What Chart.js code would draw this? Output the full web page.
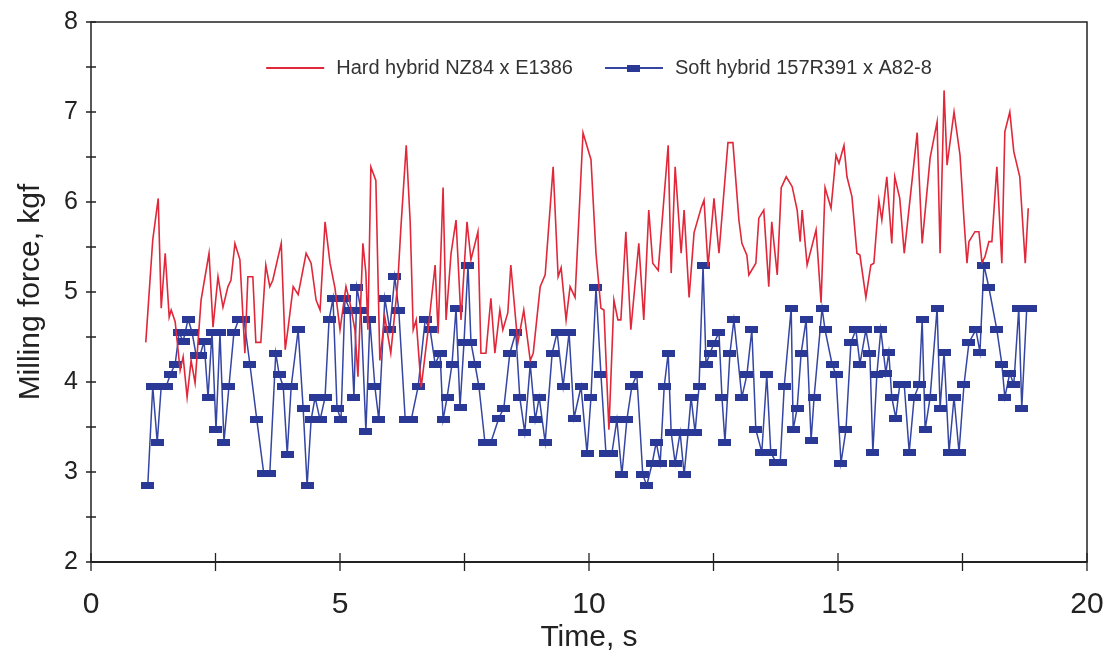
<!DOCTYPE html>
<html>
<head>
<meta charset="utf-8">
<title>Milling force</title>
<script src="https://cdn.jsdelivr.net/npm/chart.js@4.4.0/dist/chart.umd.min.js"></script>
<style>
  html, body { margin: 0; padding: 0; background: #fff; }
</style>
</head>
<body>
<canvas id="millingChart" width="1114" height="651"></canvas>
<script>
const hardLabel = 'Hard hybrid NZ84 x E1386';
const softLabel = 'Soft hybrid 157R391 x A82-8';

// hard hybrid (seconds / kgf)
const hardTime = [1.10, 1.24, 1.35, 1.41, 1.49, 1.57, 1.61, 1.69, 1.79, 1.85, 1.93, 2.01, 2.09, 2.21, 2.37, 2.45, 2.55, 2.65, 2.75, 2.81,
  2.89, 2.99, 3.09, 3.15, 3.25, 3.31, 3.41, 3.51, 3.59, 3.65, 3.82, 3.90, 3.96, 4.06, 4.16, 4.32, 4.42, 4.52, 4.60, 4.70,
  4.80, 4.90, 5.00, 5.12, 5.20, 5.30, 5.36, 5.46, 5.52, 5.56, 5.62, 5.72, 5.80, 5.90, 6.02, 6.16, 6.22, 6.33, 6.41, 6.47,
  6.53, 6.63, 6.77, 6.91, 6.97, 7.07, 7.13, 7.23, 7.33, 7.43, 7.55, 7.63, 7.77, 7.83, 7.93, 8.03, 8.11, 8.21, 8.27, 8.37,
  8.43, 8.57, 8.69, 8.82, 8.88, 9.02, 9.12, 9.28, 9.38, 9.44, 9.54, 9.62, 9.72, 9.88, 10.04, 10.14, 10.24, 10.30, 10.40, 10.50,
  10.58, 10.64, 10.74, 10.84, 11.00, 11.10, 11.20, 11.28, 11.39, 11.59, 11.65, 11.73, 11.85, 11.91, 12.01, 12.11, 12.25, 12.31, 12.39, 12.51,
  12.61, 12.79, 12.89, 13.01, 13.07, 13.17, 13.21, 13.35, 13.41, 13.51, 13.61, 13.67, 13.78, 13.86, 13.96, 14.08, 14.18, 14.24, 14.28, 14.38,
  14.56, 14.66, 14.74, 14.86, 14.96, 15.02, 15.12, 15.18, 15.28, 15.38, 15.44, 15.56, 15.66, 15.72, 15.82, 15.88, 15.98, 16.08, 16.14, 16.24,
  16.33, 16.59, 16.69, 16.85, 16.99, 17.05, 17.13, 17.19, 17.33, 17.45, 17.53, 17.59, 17.63, 17.75, 17.83, 17.89, 17.95, 18.03, 18.09, 18.19,
  18.29, 18.35, 18.45, 18.53, 18.65, 18.76, 18.82];
const hardForce = [4.44, 5.58, 6.04, 4.82, 5.43, 4.72, 4.80, 4.67, 4.13, 4.28, 3.83, 4.24, 3.99, 4.91, 5.43, 4.61, 5.17, 4.83, 5.06, 5.13,
  5.54, 5.36, 4.32, 5.17, 5.17, 4.44, 4.44, 5.30, 5.06, 5.13, 5.54, 4.36, 4.61, 5.06, 4.97, 5.43, 5.32, 4.91, 4.80, 5.78,
  5.32, 5.04, 4.58, 5.06, 4.88, 4.58, 4.06, 5.54, 5.21, 4.58, 6.39, 6.24, 4.24, 4.72, 4.32, 5.10, 5.69, 6.63, 5.77, 4.58,
  4.69, 3.94, 4.58, 5.30, 4.54, 6.16, 4.69, 5.43, 5.80, 4.69, 5.78, 5.36, 5.67, 4.32, 4.32, 4.93, 4.32, 4.80, 4.58, 4.77,
  5.30, 4.43, 4.80, 4.24, 4.32, 5.06, 5.19, 6.39, 5.17, 5.27, 4.69, 5.06, 4.94, 6.77, 6.47, 5.43, 4.82, 4.80, 3.47, 4.91,
  4.69, 4.69, 5.67, 4.58, 5.54, 4.69, 5.91, 5.32, 5.24, 6.63, 5.21, 6.39, 5.43, 5.91, 4.94, 5.66, 5.93, 6.02, 5.28, 6.04,
  5.43, 6.66, 6.66, 5.80, 5.54, 5.41, 5.19, 5.32, 5.82, 5.91, 5.06, 5.78, 5.19, 6.16, 6.28, 6.17, 5.91, 5.56, 5.91, 5.30,
  5.69, 4.88, 6.16, 5.93, 6.52, 6.43, 6.63, 6.28, 6.06, 5.43, 5.41, 4.94, 5.30, 5.32, 6.02, 5.80, 6.28, 5.54, 6.28, 6.04,
  5.43, 6.77, 5.54, 6.49, 6.89, 5.43, 7.24, 6.41, 7.00, 6.52, 5.80, 5.32, 5.56, 5.67, 5.67, 5.33, 5.39, 5.56, 5.56, 6.39,
  5.32, 6.78, 7.00, 6.56, 6.28, 5.32, 5.93];

// soft hybrid, one entry per square marker
const softTime = [1.14, 1.24, 1.33, 1.41, 1.51, 1.59, 1.69, 1.77, 1.85, 1.95, 2.03, 2.11, 2.19, 2.27, 2.35, 2.43, 2.51, 2.59, 2.67, 2.77,
  2.87, 2.97, 3.07, 3.19, 3.33, 3.47, 3.59, 3.71, 3.78, 3.86, 3.94, 4.02, 4.16, 4.26, 4.34, 4.42, 4.50, 4.60, 4.70, 4.78,
  4.86, 4.94, 5.02, 5.10, 5.20, 5.28, 5.34, 5.42, 5.52, 5.60, 5.70, 5.78, 5.90, 6.00, 6.10, 6.18, 6.31, 6.43, 6.57, 6.71,
  6.81, 6.91, 7.01, 7.07, 7.15, 7.25, 7.33, 7.41, 7.49, 7.57, 7.63, 7.71, 7.79, 7.91, 8.03, 8.19, 8.29, 8.41, 8.53, 8.61,
  8.71, 8.82, 8.92, 9.00, 9.12, 9.26, 9.36, 9.48, 9.60, 9.70, 9.84, 9.96, 10.04, 10.14, 10.24, 10.34, 10.46, 10.56, 10.66, 10.76,
  10.86, 10.96, 11.08, 11.16, 11.27, 11.35, 11.43, 11.51, 11.59, 11.65, 11.73, 11.83, 11.91, 11.99, 12.05, 12.13, 12.21, 12.29, 12.35, 12.43,
  12.51, 12.61, 12.67, 12.73, 12.83, 12.91, 13.07, 13.17, 13.27, 13.35, 13.47, 13.57, 13.65, 13.75, 13.84, 13.92, 14.06, 14.10, 14.18, 14.26,
  14.36, 14.46, 14.52, 14.68, 14.74, 14.88, 14.96, 15.06, 15.16, 15.26, 15.36, 15.44, 15.56, 15.64, 15.70, 15.78, 15.86, 15.96, 16.02, 16.08,
  16.16, 16.24, 16.33, 16.43, 16.53, 16.63, 16.69, 16.75, 16.85, 16.99, 17.05, 17.13, 17.23, 17.33, 17.43, 17.53, 17.63, 17.77, 17.85, 17.93,
  18.03, 18.19, 18.29, 18.35, 18.45, 18.53, 18.63, 18.69, 18.79, 18.86];
const softForce = [2.85, 3.95, 3.33, 3.95, 3.95, 4.08, 4.20, 4.55, 4.45, 4.70, 4.55, 4.30, 4.30, 4.45, 3.83, 4.55, 3.47, 4.55, 3.33, 3.95,
  4.55, 4.70, 4.70, 4.20, 3.58, 2.98, 2.98, 4.32, 4.08, 3.95, 3.20, 3.95, 4.58, 3.71, 2.85, 3.58, 3.83, 3.58, 3.83, 4.69,
  4.93, 3.71, 3.58, 4.93, 4.80, 3.83, 5.05, 4.80, 3.45, 4.69, 3.95, 3.58, 4.93, 4.58, 5.17, 4.80, 3.58, 3.58, 3.95, 4.69,
  4.58, 4.20, 4.32, 3.58, 3.83, 4.20, 4.82, 3.72, 4.44, 5.30, 4.44, 4.20, 3.95, 3.33, 3.33, 3.60, 3.71, 4.32, 4.55, 3.83,
  3.44, 4.20, 3.58, 3.83, 3.33, 4.32, 4.55, 3.95, 4.55, 3.60, 3.95, 3.21, 3.83, 5.05, 4.08, 3.21, 3.21, 3.58, 2.97, 3.58,
  3.95, 4.08, 2.97, 2.85, 3.10, 3.33, 3.10, 3.95, 4.32, 3.44, 3.10, 3.44, 2.97, 3.44, 3.83, 3.44, 3.95, 5.30, 4.20, 4.32,
  4.43, 4.55, 3.83, 3.33, 4.32, 4.69, 3.83, 4.08, 4.58, 3.47, 3.22, 4.08, 3.22, 3.11, 3.11, 3.95, 4.82, 3.47, 3.71, 4.32,
  4.69, 3.35, 3.83, 4.82, 4.58, 4.20, 4.08, 3.10, 3.47, 4.44, 4.58, 4.20, 4.58, 4.32, 3.22, 4.08, 4.58, 4.10, 4.33, 3.83,
  3.60, 3.97, 3.97, 3.22, 3.83, 3.97, 4.69, 3.47, 3.83, 4.82, 3.71, 4.33, 3.22, 3.83, 3.22, 3.97, 4.44, 4.58, 4.33, 5.30,
  5.05, 4.58, 4.20, 3.83, 4.10, 3.97, 4.82, 3.71, 4.82, 4.82];

const FONT = "'Liberation Sans', Arial, sans-serif";
const INK = '#222';
const HARD_COLOR = '#e0283a';
const SOFT_COLOR = '#3545a2';

function makeMarker() {
  const marker = document.createElement('canvas');
  marker.width = 13;
  marker.height = 7;
  const mctx = marker.getContext('2d');
  mctx.fillStyle = '#2a3896';
  mctx.fillRect(0, 0, 13, 7);
  return marker;
}

function toPoints(times, values) {
  return times.map((t, i) => ({ x: t, y: values[i] }));
}

// box round the plot plus ticks that cross the axis lines
const axisFrame = {
  id: 'axisFrame',
  afterDraw(chart) {
    const { ctx, chartArea: area, scales } = chart;
    ctx.save();
    ctx.strokeStyle = INK;
    ctx.lineWidth = 1.5;
    ctx.strokeRect(area.left, area.top, area.right - area.left, area.bottom - area.top);

    ctx.lineWidth = 2;
    ctx.beginPath();
    ctx.moveTo(area.left, area.bottom);
    ctx.lineTo(area.right, area.bottom);
    ctx.stroke();

    ctx.lineWidth = 1.3;
    ctx.beginPath();
    scales.x.ticks.forEach(tick => {
      const px = scales.x.getPixelForValue(tick.value);
      ctx.moveTo(px, area.bottom - 9);
      ctx.lineTo(px, area.bottom + 9);
    });
    scales.y.ticks.forEach(tick => {
      const py = scales.y.getPixelForValue(tick.value);
      ctx.moveTo(area.left - 5, py);
      ctx.lineTo(area.left + 5, py);
    });
    ctx.stroke();
    ctx.restore();
  }
};

const insideLegend = {
  id: 'insideLegend',
  afterDraw(chart) {
    const { ctx, chartArea: area } = chart;
    const y = area.top + 46;
    const sample = 58;
    const textGap = 12;
    const itemGap = 32;

    ctx.save();
    ctx.font = `20px ${FONT}`;
    ctx.textBaseline = 'middle';

    const items = chart.data.datasets.map(ds => ({ ds, width: ctx.measureText(ds.label).width }));
    const total = items.reduce((sum, it) => sum + sample + textGap + it.width, 0) + itemGap * (items.length - 1);
    let x = (area.left + area.right) / 2 + 10 - total / 2;

    items.forEach(({ ds, width }) => {
      ctx.strokeStyle = ds.borderColor;
      ctx.lineWidth = 2;
      ctx.beginPath();
      ctx.moveTo(x, y);
      ctx.lineTo(x + sample, y);
      ctx.stroke();
      if (ds.pointStyle instanceof HTMLCanvasElement) {
        ctx.drawImage(ds.pointStyle, x + sample / 2 - 6.5, y - 3.5);
      }
      ctx.fillStyle = '#333';
      ctx.fillText(ds.label, x + sample + textGap, y);
      x += sample + textGap + width + itemGap;
    });
    ctx.restore();
  }
};

const ctx = document.getElementById('millingChart').getContext('2d');

new Chart(ctx, {
  type: 'line',
  data: {
    datasets: [{
      label: hardLabel,
      data: toPoints(hardTime, hardForce),
      borderColor: HARD_COLOR,
      borderWidth: 1.6,
      pointRadius: 0,
      tension: 0
    }, {
      label: softLabel,
      data: toPoints(softTime, softForce),
      borderColor: SOFT_COLOR,
      borderWidth: 1.5,
      pointStyle: makeMarker(),
      pointRadius: 6,
      tension: 0
    }]
  },
  options: {
    responsive: false,
    animation: false,
    layout: {
      padding: { left: 0, top: 22, right: 27, bottom: 0 }
    },
    scales: {
      x: {
        type: 'linear',
        min: 0,
        max: 20,
        afterFit: scale => {
          scale.height = 89;
          scale.paddingLeft = 0;
          scale.paddingRight = 0;
        },
        grid: { display: false, drawTicks: false },
        border: { display: false },
        ticks: {
          stepSize: 2.5,
          autoSkip: false,
          maxRotation: 0,
          padding: 25,
          color: INK,
          font: { family: FONT, size: 30 },
          callback: value => (value % 5 === 0 ? value : '')
        },
        title: {
          display: true,
          text: 'Time, s',
          color: INK,
          padding: 0,
          font: { family: FONT, size: 30, lineHeight: 0.9 }
        }
      },
      y: {
        min: 2,
        max: 8,
        afterFit: scale => {
          scale.width = 91;
          scale.paddingTop = 0;
          scale.paddingBottom = 0;
        },
        grid: { display: false, drawTicks: false },
        border: { display: false },
        ticks: {
          stepSize: 0.5,
          autoSkip: false,
          padding: 13,
          color: INK,
          font: { family: FONT, size: 25 },
          callback: value => (Number.isInteger(value) ? value : '')
        },
        title: {
          display: true,
          text: 'Milling force, kgf',
          color: INK,
          padding: 16,
          font: { family: FONT, size: 30, lineHeight: 1 }
        }
      }
    },
    plugins: {
      legend: { display: false },
      tooltip: { enabled: false }
    }
  },
  plugins: [axisFrame, insideLegend]
});
</script>
</body>
</html>
